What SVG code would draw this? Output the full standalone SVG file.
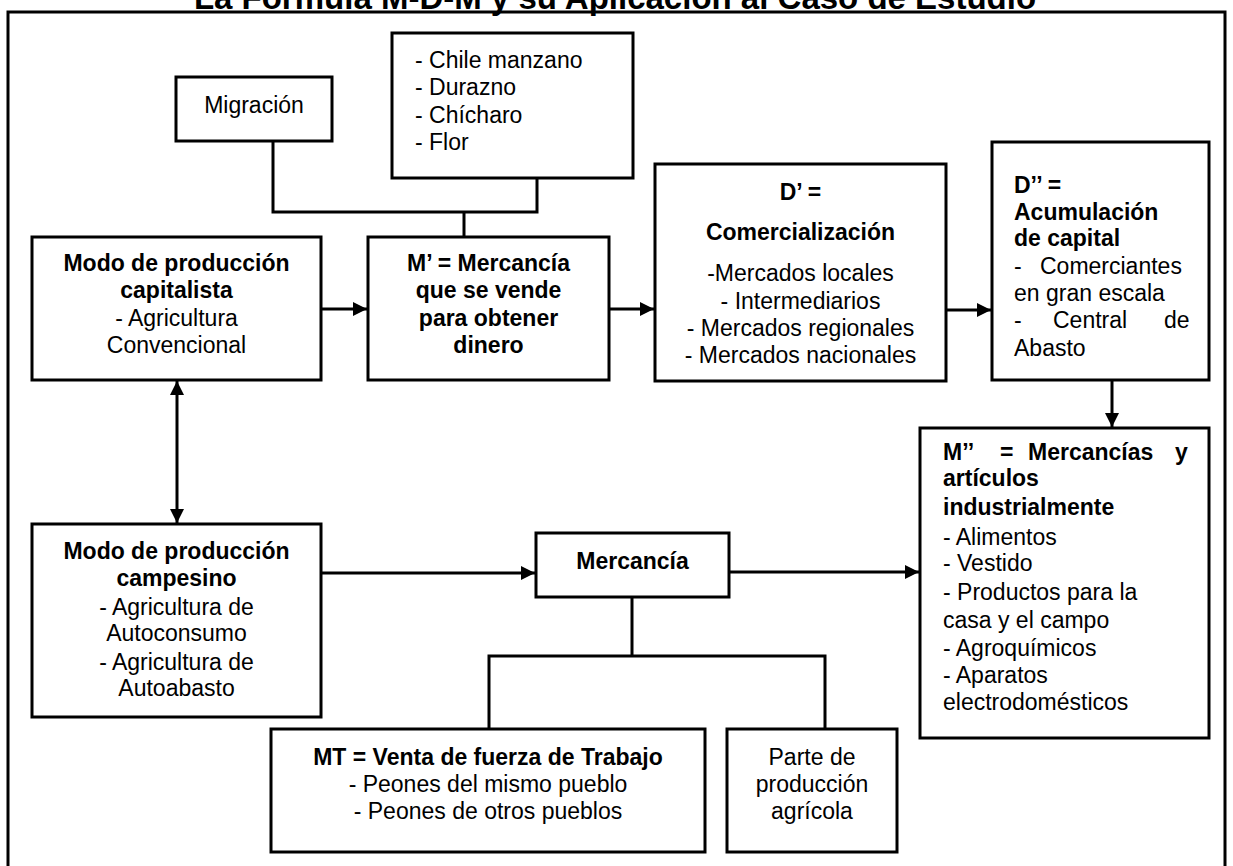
<svg xmlns="http://www.w3.org/2000/svg" width="1233" height="866" viewBox="0 0 1233 866">
<style>
text{font-family:"Liberation Sans",Arial,sans-serif;font-size:23px;fill:#000}
.b{font-weight:bold}
.c{text-anchor:middle}
.box{fill:#fff;stroke:#000;stroke-width:3}
.ln{fill:none;stroke:#000;stroke-width:3}
.title{font-size:33px;font-weight:bold}
</style>
<defs>
<marker id="ah" markerUnits="userSpaceOnUse" markerWidth="16" markerHeight="16" refX="14" refY="7" orient="auto-start-reverse">
<path d="M0,0 L14,7 L0,14 Z" fill="#000"/>
</marker>
</defs>
<rect x="0" y="0" width="1233" height="866" fill="#fff"/>
<text class="title c" x="615" y="9">La Fórmula M-D-M y su Aplicación al Caso de Estudio</text>
<rect x="8" y="12" width="1217" height="900" fill="none" stroke="#000" stroke-width="3"/>

<g id="connectors">
<polyline class="ln" points="273,141 273,212 537,212 537,178"/>
<line class="ln" x1="464" y1="212" x2="464" y2="237"/>
<line class="ln" x1="321" y1="309" x2="367" y2="309" marker-end="url(#ah)"/>
<line class="ln" x1="609" y1="309" x2="654" y2="309" marker-end="url(#ah)"/>
<line class="ln" x1="946" y1="310" x2="991" y2="310" marker-end="url(#ah)"/>
<line class="ln" x1="1112" y1="380" x2="1112" y2="427" marker-end="url(#ah)"/>
<line class="ln" x1="177" y1="381" x2="177" y2="523" marker-start="url(#ah)" marker-end="url(#ah)"/>
<line class="ln" x1="321" y1="573" x2="535" y2="573" marker-end="url(#ah)"/>
<line class="ln" x1="729" y1="572" x2="919" y2="572" marker-end="url(#ah)"/>
<line class="ln" x1="632" y1="597" x2="632" y2="656"/>
<polyline class="ln" points="489,729 489,656 825,656 825,729"/>
</g>

<g id="migracion">
<rect class="box" x="176" y="77" width="156" height="64"/>
<text class="c" x="254" y="113">Migración</text>
</g>

<g id="cultivos">
<rect class="box" x="392" y="33" width="241" height="145"/>
<text x="415" y="68">- Chile manzano</text>
<text x="415" y="95">- Durazno</text>
<text x="415" y="123">- Chícharo</text>
<text x="415" y="150">- Flor</text>
</g>

<g id="capitalista">
<rect class="box" x="32" y="237" width="289" height="143"/>
<text class="c b" x="176.5" y="271">Modo de producción</text>
<text class="c b" x="176.5" y="298">capitalista</text>
<text class="c" x="176.5" y="326">- Agricultura</text>
<text class="c" x="176.5" y="353">Convencional</text>
</g>

<g id="mercancia-m1">
<rect class="box" x="368" y="237" width="241" height="143"/>
<text class="c b" x="488.5" y="271">M’ = Mercancía</text>
<text class="c b" x="488.5" y="298">que se vende</text>
<text class="c b" x="488.5" y="326">para obtener</text>
<text class="c b" x="488.5" y="353">dinero</text>
</g>

<g id="comercializacion">
<rect class="box" x="655" y="164" width="291" height="217"/>
<text class="c b" x="800.5" y="200">D’ =</text>
<text class="c b" x="800.5" y="240">Comercialización</text>
<text class="c" x="800.5" y="281">-Mercados locales</text>
<text class="c" x="800.5" y="309">- Intermediarios</text>
<text class="c" x="800.5" y="336">- Mercados regionales</text>
<text class="c" x="800.5" y="363">- Mercados nacionales</text>
</g>

<g id="acumulacion">
<rect class="box" x="992" y="142" width="217" height="238"/>
<text class="b" x="1014" y="193">D’’ =</text>
<text class="b" x="1014" y="220">Acumulación</text>
<text class="b" x="1014" y="246">de capital</text>
<text y="274"><tspan x="1014">-</tspan><tspan x="1040">Comerciantes</tspan></text>
<text x="1014" y="301">en gran escala</text>
<text y="328"><tspan x="1014">-</tspan><tspan x="1053">Central</tspan><tspan x="1164">de</tspan></text>
<text x="1014" y="356">Abasto</text>
</g>

<g id="mercancias-m2">
<rect class="box" x="920" y="428" width="289" height="310"/>
<text class="b" y="460"><tspan x="943">M’’</tspan><tspan x="1000">=</tspan><tspan x="1028">Mercancías</tspan><tspan x="1175">y</tspan></text>
<text class="b" x="943" y="486">artículos</text>
<text class="b" x="943" y="515">industrialmente</text>
<text x="943" y="545">- Alimentos</text>
<text x="943" y="571">- Vestido</text>
<text x="943" y="600">- Productos para la</text>
<text x="943" y="628">casa y el campo</text>
<text x="943" y="656">- Agroquímicos</text>
<text x="943" y="683">- Aparatos</text>
<text x="943" y="710">electrodomésticos</text>
</g>

<g id="campesino">
<rect class="box" x="32" y="524" width="289" height="193"/>
<text class="c b" x="176.5" y="559">Modo de producción</text>
<text class="c b" x="176.5" y="586">campesino</text>
<text class="c" x="176.5" y="615">- Agricultura de</text>
<text class="c" x="176.5" y="641">Autoconsumo</text>
<text class="c" x="176.5" y="670">- Agricultura de</text>
<text class="c" x="176.5" y="696">Autoabasto</text>
</g>

<g id="mercancia">
<rect class="box" x="536" y="533" width="193" height="64"/>
<text class="c b" x="632.5" y="569">Mercancía</text>
</g>

<g id="fuerza-trabajo">
<rect class="box" x="271" y="729" width="434" height="123"/>
<text class="c b" x="488" y="765">MT = Venta de fuerza de Trabajo</text>
<text class="c" x="488" y="792">- Peones del mismo pueblo</text>
<text class="c" x="488" y="819">- Peones de otros pueblos</text>
</g>

<g id="parte-produccion">
<rect class="box" x="727" y="729" width="170" height="123"/>
<text class="c" x="812" y="765">Parte de</text>
<text class="c" x="812" y="792">producción</text>
<text class="c" x="812" y="819">agrícola</text>
</g>
</svg>
